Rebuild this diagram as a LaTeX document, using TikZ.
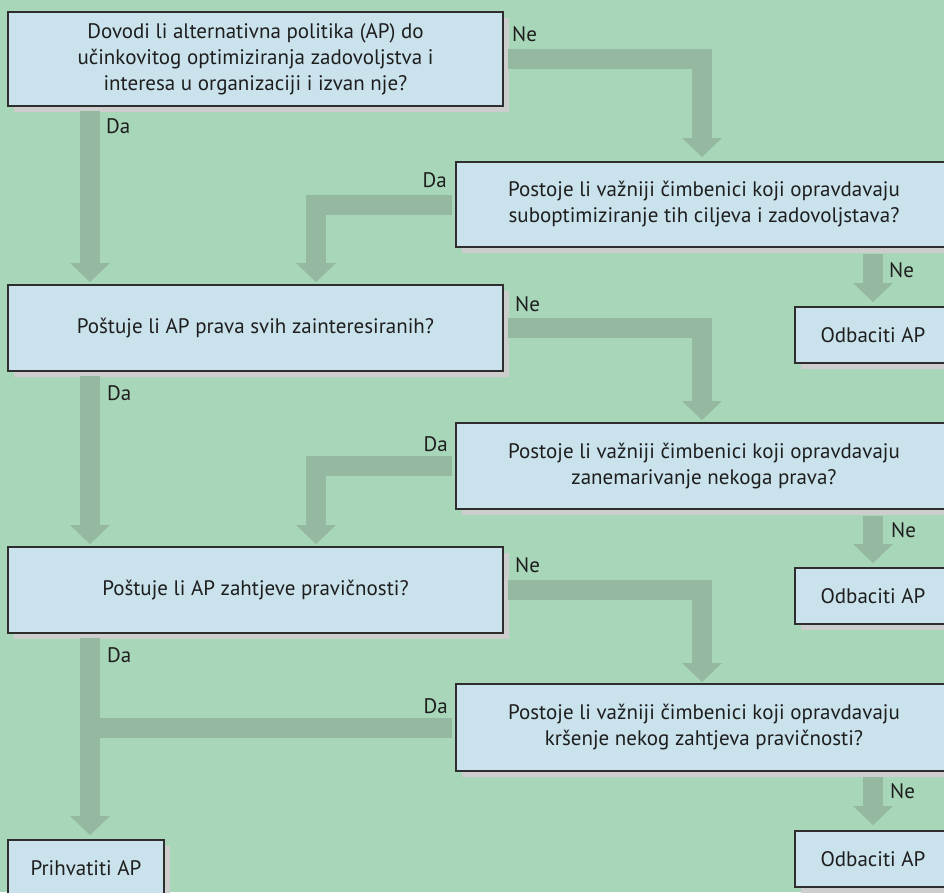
\documentclass[tikz,border=0pt]{standalone}
\usepackage{fontspec}
\setmainfont{PT Sans}
\usetikzlibrary{arrows.meta,shadows}

\definecolor{bgGreen}{HTML}{A8D6B9}
\definecolor{boxFill}{HTML}{C9E2EC}
\definecolor{boxLine}{HTML}{2E2E2E}
\definecolor{bandGreen}{HTML}{94B8A0}
\definecolor{shadowGray}{HTML}{CDCDCD}
\definecolor{inkDark}{HTML}{1E1E1E}

\newcommand{\chartfont}{\fontsize{21}{26}\selectfont}

\tikzset{
  qbox/.style={draw=boxLine, line width=1.3pt, fill=boxFill, align=center,
    font=\chartfont, text=inkDark, inner sep=0pt, outer sep=0pt,
    drop shadow={shadow xshift=6pt, shadow yshift=-6pt, fill=shadowGray, opacity=1}},
  wide/.style={qbox, minimum width=495pt},
  small/.style={qbox, minimum width=156pt, minimum height=56pt},
  band/.style={draw=bandGreen, line width=20pt, line cap=butt, line join=miter,
    -{Triangle[length=19pt, width=40pt, line width=0pt]}},
  bandplain/.style={draw=bandGreen, line width=20pt, line cap=butt},
  lbl/.style={font=\chartfont, text=inkDark, inner sep=0pt, anchor=base west},
}

\begin{document}
\begin{tikzpicture}[x=1pt, y=-1pt]
  \fill[bgGreen] (0,0) rectangle (944,892);
  \useasboundingbox (0,0) rectangle (944,892);
  \clip (0,0) rectangle (944,892);

  % question boxes, left column
  \node[wide, minimum height=94pt] (q1) at (255.5,59)
    {Dovodi li alternativna politika (AP) do\\
     učinkovitog optimiziranja zadovoljstva i\\
     interesa u organizaciji i izvan nje?};
  \node[wide, minimum height=86pt] (q2) at (255.5,328)
    {Poštuje li AP prava svih zainteresiranih?};
  \node[wide, minimum height=86pt] (q3) at (255.5,590)
    {Poštuje li AP zahtjeve pravičnosti?};

  % follow-up boxes, right column
  \node[qbox, minimum width=496pt, minimum height=85pt] (q1b) at (704,204.5)
    {Postoje li važniji čimbenici koji opravdavaju\\
     suboptimiziranje tih ciljeva i zadovoljstava?};
  \node[qbox, minimum width=496pt, minimum height=86pt] (q2b) at (704,466)
    {Postoje li važniji čimbenici koji opravdavaju\\
     zanemarivanje nekoga prava?};
  \node[qbox, minimum width=496pt, minimum height=87pt] (q3b) at (704,727.5)
    {Postoje li važniji čimbenici koji opravdavaju\\
     kršenje nekog zahtjeva pravičnosti?};

  % outcomes
  \node[small] (r1) at (873,335) {Odbaciti AP};
  \node[small] (r2) at (873,596) {Odbaciti AP};
  \node[small] (r3) at (873,859) {Odbaciti AP};
  \node[small] (acc) at (86,868) {Prihvatiti AP};

  % "Ne" from the left questions to the follow-ups
  \draw[band] ([xshift=5pt]q1.east) -| ([xshift=-2pt,yshift=5pt]q1b.north);
  \draw[band] ([xshift=5pt]q2.east) -| ([xshift=-2pt,yshift=3pt]q2b.north);
  \draw[band] ([xshift=5pt]q3.east) -| ([xshift=-2pt,yshift=2pt]q3b.north);

  % "Da" straight down the left column
  \coordinate (daCol1) at ([xshift=82pt]q1.south west);
  \coordinate (daCol2) at ([xshift=82pt]q2.south west);
  \coordinate (daCol3) at ([xshift=82pt]q3.south west);
  \draw[band] ([yshift=-5pt]daCol1) -- ([yshift=3pt]daCol1 |- q2.north);
  \draw[band] ([yshift=-5pt]daCol2) -- ([yshift=3pt]daCol2 |- q3.north);
  \draw[band] ([yshift=-5pt]daCol3) -- ([yshift=5pt]daCol3 |- acc.north);

  % "Da" from the follow-ups back to the left column
  \coordinate (daBack1) at ([xshift=308pt]q2.north west);
  \coordinate (daBack2) at ([xshift=308pt]q3.north west);
  \draw[band] ([xshift=-4pt]q1b.west) -| ([yshift=3pt]daBack1);
  \draw[band] ([xshift=-4pt]q2b.west) -| ([yshift=3pt]daBack2);
  \draw[bandplain] ([xshift=-4pt]q3b.west) -- (daCol3 |- q3b.west);

  % "Ne" from the follow-ups to rejection
  \draw[band] (r1.north |- q1b.south) ++(0,7) -- ([yshift=5pt]r1.north);
  \draw[band] (r2.north |- q2b.south) ++(0,7) -- ([yshift=5pt]r2.north);
  \draw[band] (r3.north |- q3b.south) ++(0,6) -- ([yshift=6pt]r3.north);

  % branch labels
  \node[lbl] (neA) at (512,41) {Ne};
  \node[lbl] (daA) at (106,133) {Da};
  \node[lbl, anchor=base east] (daB) at (447,187) {Da};
  \node[lbl] (neB) at (889,277) {Ne};
  \node[lbl] (neC) at (515,311) {Ne};
  \node[lbl] (daC) at (107,400) {Da};
  \node[lbl, anchor=base east] (daD) at (448,451) {Da};
  \node[lbl] (neD) at (891,537) {Ne};
  \node[lbl] (neE) at (515,572) {Ne};
  \node[lbl] (daE) at (107,662) {Da};
  \node[lbl, anchor=base east] (daF) at (448,713) {Da};
  \node[lbl] (neF) at (890,798) {Ne};
\end{tikzpicture}
\end{document}
